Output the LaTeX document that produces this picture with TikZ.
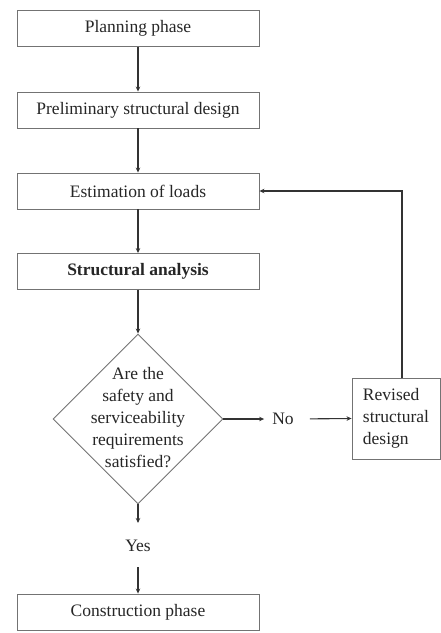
\documentclass[tikz,border=0pt]{standalone}
\usepackage{fontspec}
\setmainfont{Liberation Serif}
\usetikzlibrary{shapes.geometric,arrows.meta}
\begin{document}
\begin{tikzpicture}[x=1pt,y=-1pt,
  every node/.style={font=\fontsize{17.5}{22}\selectfont, text=black!85},
  stagebox/.style={draw=black!55, line width=0.9pt, minimum width=242pt, minimum height=36pt, inner sep=0pt},
  decide/.style={draw=black!55, line width=0.9pt, diamond, minimum width=170pt, minimum height=170pt, inner sep=0pt},
  lbl/.style={inner sep=0pt},
  arr/.style={draw=black!80, line width=1.1pt, -{Stealth[length=5pt,width=4.5pt]}}
]
\useasboundingbox (0,0) rectangle (441,633);
\node[stagebox] (plan) at (138,28.5) {Planning phase};
\node[stagebox] (prel) at (138,110) {Preliminary structural design};
\node[stagebox] (est) at (138,191) {Estimation of loads};
\node[stagebox] (ana) at (138,271.5) {\bfseries Structural analysis};
\node[decide] (dia) at (138,419) {};
\node[lbl, align=center] (diatext) at (138,417.5) {Are the\\safety and\\serviceability\\requirements\\satisfied?};
\node[lbl] (no) at (283,419) {No};
\node[draw=black!55, line width=0.9pt, minimum width=88pt, minimum height=81pt, inner sep=0pt, align=left] (rev) at (396,418.5) {Revised\\structural\\design};
\node[lbl] (yes) at (138,546) {Yes};
\node[stagebox] (cons) at (138,612) {Construction phase};
\coordinate (fb) at (402,191);

\draw[arr] (plan) -- (prel);
\draw[arr] (prel) -- (est);
\draw[arr] (est) -- (ana);
\draw[arr] (ana) -- (dia);
\draw[arr, shorten >=8pt] (dia.east) -- (no.west);
\draw[arr, shorten <=16pt] (no.east) -- (rev.west);
\draw[arr] (rev.north -| fb) |- (est.east);
\draw[arr, shorten >=17pt] (dia.south) -- (yes.north);
\draw[arr, shorten <=15pt] (yes.south) -- (cons.north);
\end{tikzpicture}
\end{document}
